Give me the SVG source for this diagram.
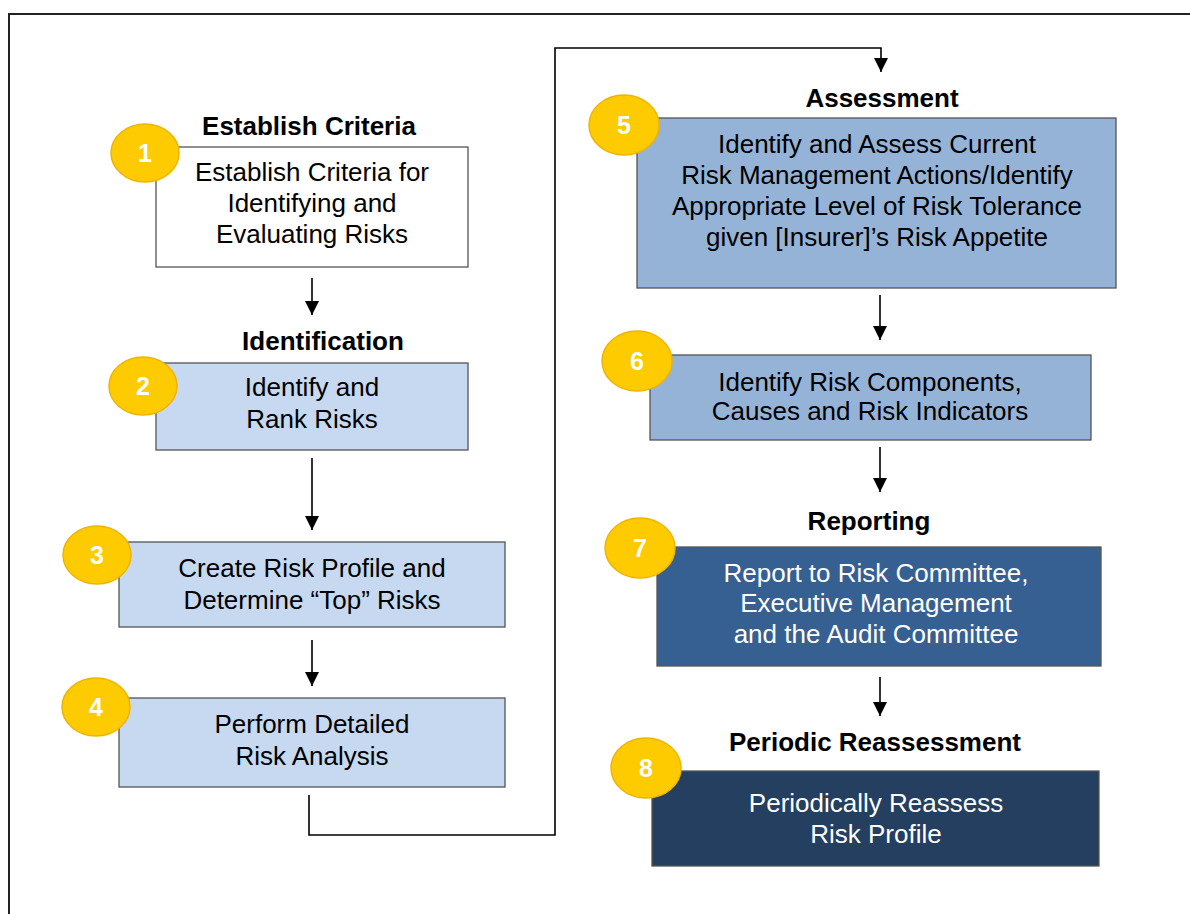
<svg xmlns="http://www.w3.org/2000/svg" width="1190" height="914" viewBox="0 0 1190 914">
<style>
.frame{fill:none;stroke:#222;stroke-width:2}
.box{stroke:#555;stroke-width:1.3}
.t{font-family:"Liberation Sans",Arial,sans-serif;font-size:26px;text-anchor:middle;fill:#000}
.w{fill:#fff}
.h{font-family:"Liberation Sans",Arial,sans-serif;font-size:26px;font-weight:bold;text-anchor:middle;fill:#000}
.badge{fill:#fecb00;stroke:#f0b400;stroke-width:1.5}
.num{font-family:"Liberation Sans",Arial,sans-serif;font-size:25px;font-weight:bold;text-anchor:middle;fill:#fff}
.c{fill:none;stroke:#000;stroke-width:1.6}
</style>
<defs>
<marker id="ah2" viewBox="0 0 10 10" refX="10" refY="5" markerWidth="14" markerHeight="14" markerUnits="userSpaceOnUse" orient="auto">
<path d="M0,0 L10,5 L0,10 z" fill="#000"/>
</marker>
</defs>
<rect width="1190" height="914" fill="#fff"/>
<rect class="frame" x="9" y="14" width="1200" height="1000"/>

<g id="connectors">
<line class="c" x1="312" y1="278" x2="312" y2="315" marker-end="url(#ah2)"/>
<line class="c" x1="312" y1="458" x2="312" y2="530" marker-end="url(#ah2)"/>
<line class="c" x1="312" y1="640" x2="312" y2="686" marker-end="url(#ah2)"/>
<polyline class="c" points="309,795 309,835 555,835 555,48 881,48 881,72" marker-end="url(#ah2)"/>
<line class="c" x1="880" y1="295" x2="880" y2="340" marker-end="url(#ah2)"/>
<line class="c" x1="880" y1="447" x2="880" y2="492" marker-end="url(#ah2)"/>
<line class="c" x1="880" y1="677" x2="880" y2="716" marker-end="url(#ah2)"/>
</g>

<g id="node1">
<text class="h" x="309" y="135">Establish Criteria</text>
<rect class="box" x="156" y="147" width="312" height="120" fill="#fff"/>
<text class="t" x="312" y="181">Establish Criteria for</text>
<text class="t" x="312" y="212">Identifying and</text>
<text class="t" x="312" y="243">Evaluating Risks</text>
<ellipse class="badge" cx="145" cy="153" rx="34" ry="29"/>
<text class="num" x="145" y="162">1</text>
</g>

<g id="node2">
<text class="h" x="323" y="350">Identification</text>
<rect class="box" x="156" y="363" width="312" height="87" fill="#c6d9f1"/>
<text class="t" x="312" y="396">Identify and</text>
<text class="t" x="312" y="428">Rank Risks</text>
<ellipse class="badge" cx="143" cy="386" rx="34" ry="29"/>
<text class="num" x="143" y="395">2</text>
</g>

<g id="node3">
<rect class="box" x="119" y="542" width="386" height="85" fill="#c6d9f1"/>
<text class="t" x="312" y="577">Create Risk Profile and</text>
<text class="t" x="312" y="609">Determine “Top” Risks</text>
<ellipse class="badge" cx="97" cy="555" rx="34" ry="29"/>
<text class="num" x="97" y="564">3</text>
</g>

<g id="node4">
<rect class="box" x="119" y="698" width="386" height="89" fill="#c6d9f1"/>
<text class="t" x="312" y="733">Perform Detailed</text>
<text class="t" x="312" y="765">Risk Analysis</text>
<ellipse class="badge" cx="96" cy="707" rx="34" ry="29"/>
<text class="num" x="96" y="716">4</text>
</g>

<g id="node5">
<text class="h" x="882" y="107">Assessment</text>
<rect class="box" x="637" y="118" width="479" height="170" fill="#95b3d7"/>
<text class="t" x="877" y="153">Identify and Assess Current</text>
<text class="t" x="877" y="184">Risk Management Actions/Identify</text>
<text class="t" x="877" y="215">Appropriate Level of Risk Tolerance</text>
<text class="t" x="877" y="246">given [Insurer]’s Risk Appetite</text>
<ellipse class="badge" cx="624" cy="125" rx="35" ry="30"/>
<text class="num" x="624" y="134">5</text>
</g>

<g id="node6">
<rect class="box" x="650" y="355" width="441" height="85" fill="#95b3d7"/>
<text class="t" x="870" y="391">Identify Risk Components,</text>
<text class="t" x="870" y="420">Causes and Risk Indicators</text>
<ellipse class="badge" cx="637" cy="361" rx="35" ry="30"/>
<text class="num" x="637" y="370">6</text>
</g>

<g id="node7">
<text class="h" x="869" y="530">Reporting</text>
<rect class="box" x="657" y="547" width="444" height="119" fill="#366092"/>
<text class="t w" x="876" y="582">Report to Risk Committee,</text>
<text class="t w" x="876" y="612">Executive Management</text>
<text class="t w" x="876" y="643">and the Audit Committee</text>
<ellipse class="badge" cx="640" cy="548" rx="35" ry="30"/>
<text class="num" x="640" y="557">7</text>
</g>

<g id="node8">
<text class="h" x="875" y="751">Periodic Reassessment</text>
<rect class="box" x="652" y="771" width="447" height="95" fill="#243f60"/>
<text class="t w" x="876" y="812">Periodically Reassess</text>
<text class="t w" x="876" y="843">Risk Profile</text>
<ellipse class="badge" cx="646" cy="768" rx="35" ry="30"/>
<text class="num" x="646" y="777">8</text>
</g>
</svg>
